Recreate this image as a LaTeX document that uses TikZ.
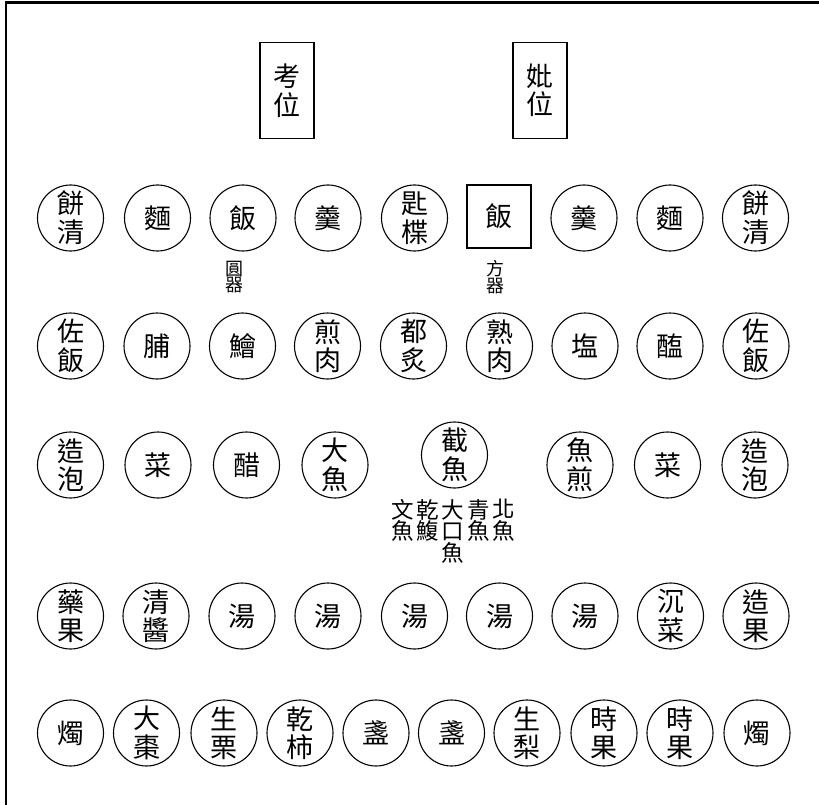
\documentclass[tikz,border=0pt]{standalone}
\usepackage{fontspec}
\newfontfamily\cjk{Noto Sans CJK TC}
\newcommand\dishfont{\cjk\fontsize{27}{28.5}\selectfont}
\newcommand\fishfont{\cjk\fontsize{22.5}{21.5}\selectfont}
\newcommand\smallcjk{\cjk\fontsize{18}{15.5}\selectfont}
\begin{document}
\begin{tikzpicture}[x=1pt,y=-1pt,
  dish/.style={circle,draw,line width=1.1pt,minimum size=66pt,inner sep=0pt,align=center,font=\dishfont},
  sqdish/.style={rectangle,draw,line width=1.2pt,minimum width=64pt,minimum height=63pt,inner sep=0pt,align=center,font=\dishfont},
  tablet/.style={rectangle,draw,line width=1.3pt,minimum width=54pt,minimum height=96pt,inner sep=0pt,align=center,font=\dishfont},
  note/.style={inner sep=0pt,align=center,font=\smallcjk},
  fish/.style={inner sep=0pt,align=center,font=\fishfont,anchor=north}]
\useasboundingbox (0,0) rectangle (819,805);
% frame
\draw[line width=2.6pt] (819,2.5) -- (6,2.5) -- (6,805);
% tablets
\node[tablet] (kao) at (287,90.5) {考\\位};
\node[tablet] (bi) at (540,90.5) {妣\\位};
% row 1
\node[dish] (a1) at (70.5,218) {餅\\清};
\node[dish] (a2) at (157.5,218) {麵};
\node[dish] (a3) at (243,218) {飯};
\node[dish] (a4) at (328,218) {羹};
\node[dish] (a5) at (414.5,218) {匙\\楪};
\node[sqdish] (a6) at (499,216.5) {飯};
\node[dish] (a7) at (584,218) {羹};
\node[dish] (a8) at (670,218) {麵};
\node[dish] (a9) at (755.5,218) {餅\\清};
\node[note] (yuan) at (234,277) {圓\\器};
\node[note] (fang) at (495,277) {方\\器};
% row 2
\node[dish] (b1) at (70.5,346) {佐\\飯};
\node[dish] (b2) at (157,346) {脯};
\node[dish] (b3) at (242.5,346) {鱠};
\node[dish] (b4) at (327.5,346) {煎\\肉};
\node[dish] (b5) at (413.5,346) {都\\炙};
\node[dish] (b6) at (499.5,346) {熟\\肉};
\node[dish] (b7) at (585,346) {塩};
\node[dish] (b8) at (670,346) {醢};
\node[dish] (b9) at (756,346) {佐\\飯};
% row 3
\node[dish] (c1) at (70.5,465) {造\\泡};
\node[dish] (c2) at (158,465) {菜};
\node[dish] (c3) at (246.5,465) {醋};
\node[dish] (c4) at (335,465) {大\\魚};
\node[dish] (c5) at (454.5,455) {截\\魚};
\node[dish] (c6) at (580,465) {魚\\煎};
\node[dish] (c7) at (667.5,465) {菜};
\node[dish] (c8) at (755,465) {造\\泡};
\node[fish] (f1) at (403,499) {文\\魚};
\node[fish] (f2) at (428,499) {乾\\鰒};
\node[fish] (f3) at (453,499) {大\\口\\魚};
\node[fish] (f4) at (478.5,499) {青\\魚};
\node[fish] (f5) at (504,499) {北\\魚};
% row 4
\node[dish] (d1) at (70.5,616) {藥\\果};
\node[dish] (d2) at (156,616) {清\\醬};
\node[dish] (d3) at (242,616) {湯};
\node[dish] (d4) at (328,616) {湯};
\node[dish] (d5) at (414.5,616) {湯};
\node[dish] (d6) at (499.5,616) {湯};
\node[dish] (d7) at (585,616) {湯};
\node[dish] (d8) at (670.5,616) {沉\\菜};
\node[dish] (d9) at (756,616) {造\\果};
% row 5
\node[dish] (e1) at (70.5,733) {燭};
\node[dish] (e2) at (146.5,733) {大\\棗};
\node[dish] (e3) at (224,733) {生\\栗};
\node[dish] (e4) at (300,733) {乾\\柿};
\node[dish] (e5) at (376,733) {盞};
\node[dish] (e6) at (451.5,733) {盞};
\node[dish] (e7) at (527,733) {生\\梨};
\node[dish] (e8) at (604,733) {時\\果};
\node[dish] (e9) at (680,733) {時\\果};
\node[dish] (e10) at (757,733) {燭};
\end{tikzpicture}
\end{document}
